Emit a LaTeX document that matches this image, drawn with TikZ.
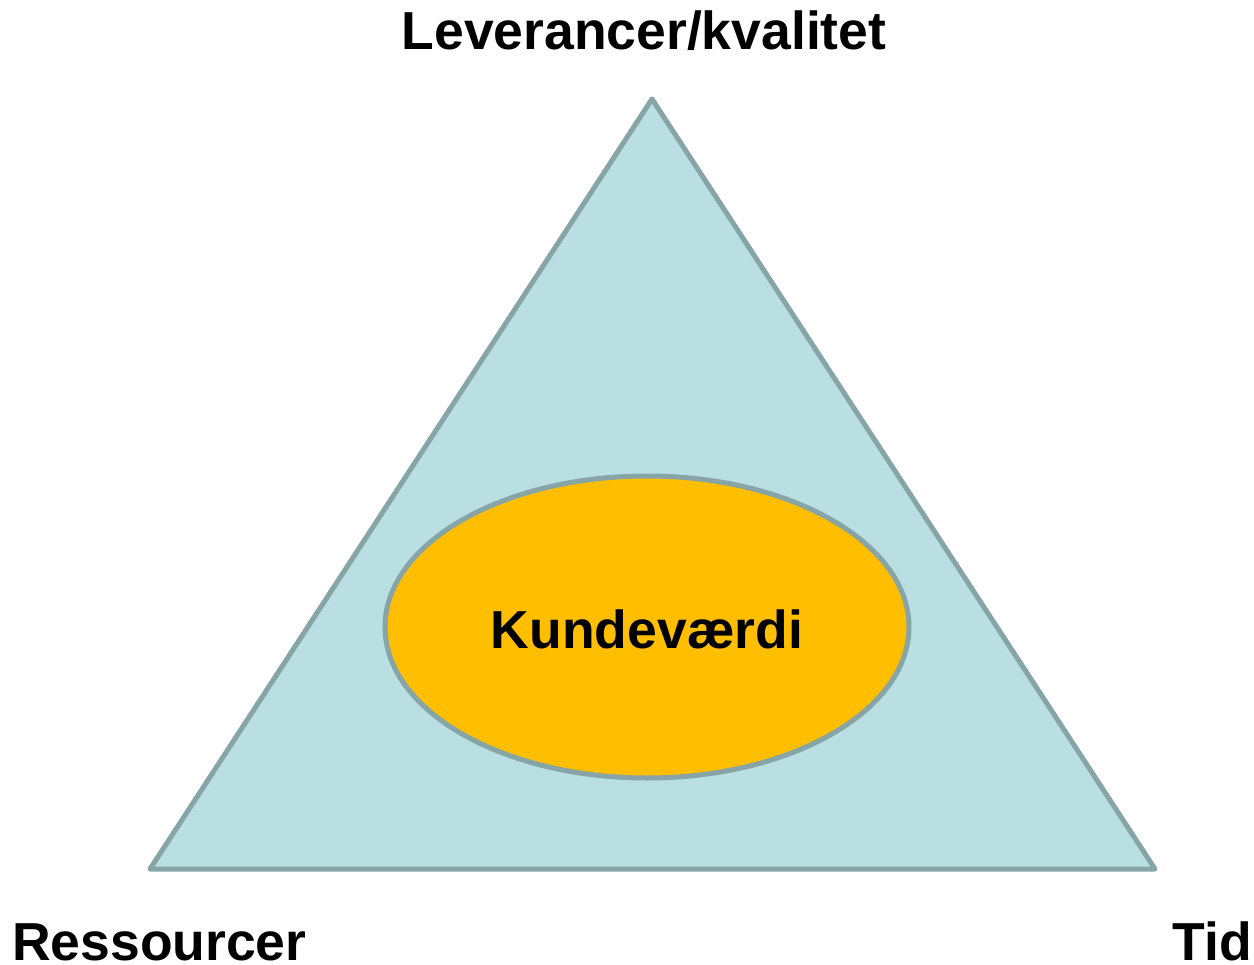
\documentclass[tikz,border=0pt]{standalone}
\usepackage{fontspec}
\setmainfont{Liberation Sans}
\usetikzlibrary{shapes.geometric}
\definecolor{tfill}{HTML}{B9DFE3}
\definecolor{tline}{HTML}{87A5A7}
\definecolor{efill}{HTML}{FFBE00}
\begin{document}
\begin{tikzpicture}[x=1pt,y=-1pt,
  lbl/.style={font=\fontsize{53.5}{64}\selectfont\bfseries, inner sep=0pt}]
\useasboundingbox (0,0) rectangle (1254,965);
\coordinate (top) at (652,99);
\coordinate (bl) at (150,869);
\coordinate (br) at (1155,869);
\draw[tline, fill=tfill, line width=5pt, line join=round] (top) -- (br) -- (bl) -- cycle;
\node[ellipse, draw=tline, fill=efill, line width=5pt, minimum width=524pt, minimum height=302pt, inner sep=0pt] (kv) at (647,627) {};
\node[lbl, anchor=base] (kvt) at (647,648) {Kundeværdi};
\node[lbl, anchor=base] (lev) at (644,50) {Leverancer/kvalitet};
\node[lbl, anchor=base west] (res) at (12,960) {Ressourcer};
\node[lbl, anchor=base east] (tid) at (1252,960) {Tid};
\end{tikzpicture}
\end{document}
